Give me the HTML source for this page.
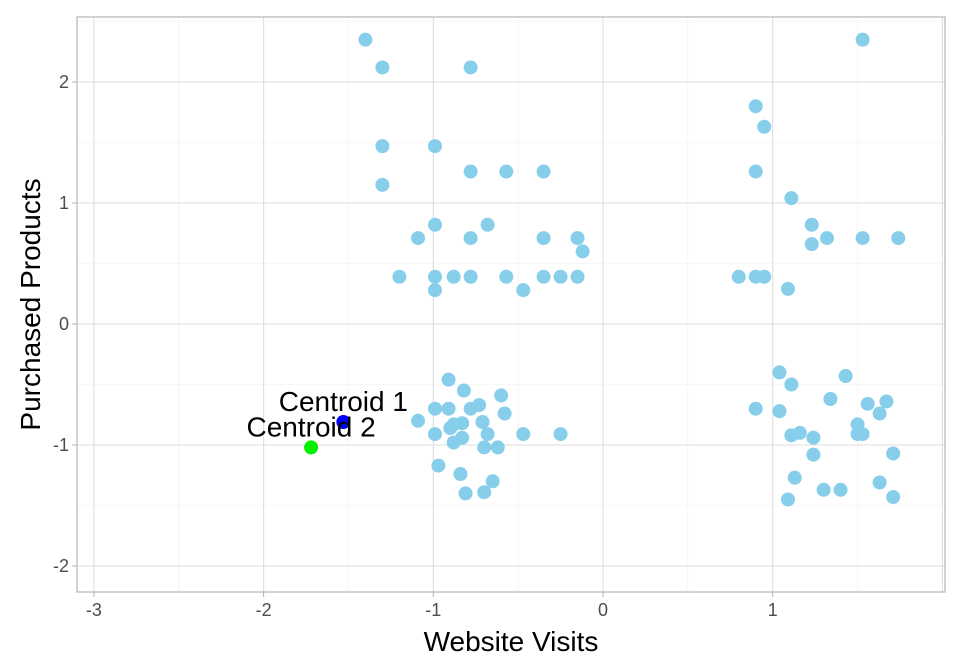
<!DOCTYPE html>
<html><head><meta charset="utf-8"><style>
html,body{margin:0;padding:0;background:#fff;}
svg{display:block;font-family:"Liberation Sans",Arial,sans-serif;}
</style></head><body>
<svg id="chart" width="960" height="672" viewBox="0 0 960 672"></svg>
<script>
const xTicks=[-3,-2,-1,0,1];
const yTicks=[-2,-1,0,1,2];
const xTickLabels=["-3","-2","-1","0","1"];
const yTickLabels=["-2","-1","0","1","2"];
const visitsX=[-1.40,-1.30,-0.78,-1.30,-0.99,-1.30,-0.78,-0.57,-0.35,-1.09,-0.99,-0.78,-0.68,-0.35,-0.15,-0.12,-1.20,-0.99,-0.88,-0.78,-0.57,-0.35,-0.25,-0.15,-0.99,-0.47,
1.53,0.90,0.95,0.90,1.11,1.23,1.23,1.32,1.53,1.74,0.80,0.90,0.95,1.09,
-0.91,-0.60,-0.82,-0.78,-0.73,-0.91,-0.99,-0.58,-1.09,-0.88,-0.83,-0.71,-0.99,-0.90,-0.68,-0.47,-0.25,-0.88,-0.83,-0.70,-0.62,-0.97,-0.84,-0.65,-0.81,-0.70,
1.04,1.11,1.43,1.34,1.56,1.67,1.63,0.90,1.04,1.50,1.16,1.11,1.24,1.53,1.50,1.24,1.71,1.13,1.63,1.30,1.40,1.71,1.09];
const productsY=[2.35,2.12,2.12,1.47,1.47,1.15,1.26,1.26,1.26,0.71,0.82,0.71,0.82,0.71,0.71,0.60,0.39,0.39,0.39,0.39,0.39,0.39,0.39,0.39,0.28,0.28,
2.35,1.80,1.63,1.26,1.04,0.82,0.66,0.71,0.71,0.71,0.39,0.39,0.39,0.29,
-0.46,-0.59,-0.55,-0.70,-0.67,-0.70,-0.70,-0.74,-0.80,-0.83,-0.82,-0.81,-0.91,-0.86,-0.91,-0.91,-0.91,-0.98,-0.94,-1.02,-1.02,-1.17,-1.24,-1.30,-1.40,-1.39,
-0.40,-0.50,-0.43,-0.62,-0.66,-0.64,-0.74,-0.70,-0.72,-0.83,-0.90,-0.92,-0.94,-0.91,-0.91,-1.08,-1.07,-1.27,-1.31,-1.37,-1.37,-1.43,-1.45];
const centroidNames=["Centroid 1","Centroid 2"];
const centroidX=[-1.53,-1.72];
const centroidY=[-0.81,-1.02];
const centroidColors=["#0000ff","#00ee00"];

const NS="http://www.w3.org/2000/svg";
const svg=document.getElementById('chart');
const L=77,R=945,T=17,B=592;
const xs=v=>603+v*169.7;
const ys=v=>324-v*121;
function mk(tag,attrs,parent){const e=document.createElementNS(NS,tag);for(const k in attrs)e.setAttribute(k,attrs[k]);(parent||svg).appendChild(e);return e;}
const grid=mk('g',{});


for(let v=-3.5;v<=2.5;v+=0.5){const x=xs(v);if(x<L||x>R)continue;const major=Number.isInteger(v);
 const ln=mk('line',{x1:x,x2:x,y1:T,y2:B,stroke:major?'#dedede':'#efefef','stroke-width':major?1.1:0.6},grid);
 }
for(let v=-2.5;v<=2.5;v+=0.5){const y=ys(v);if(y<T||y>B)continue;const major=Number.isInteger(v);
 const ln=mk('line',{x1:L,x2:R,y1:y,y2:y,stroke:major?'#dedede':'#efefef','stroke-width':major?1.1:0.6},grid);
 }
const pts=mk('g',{});


for(let i=0;i<visitsX.length;i++){const c=mk('circle',{cx:xs(visitsX[i]),cy:ys(productsY[i]),r:7,fill:'#87ceeb'},pts);
 }
for(let i=0;i<centroidX.length;i++){
 const c=mk('circle',{cx:xs(centroidX[i]),cy:ys(centroidY[i]),r:7,fill:centroidColors[i]});
 
 const t=mk('text',{x:xs(centroidX[i]),y:ys(centroidY[i])-11,'text-anchor':'middle','font-size':28,fill:'#000'});
 t.textContent=centroidNames[i];
 }
const border=mk('rect',{x:L,y:T,width:R-L,height:B-T,fill:'none',stroke:'#b3b3b3','stroke-width':1.2});

xTicks.forEach((v,i)=>{const x=xs(v);if(x>R)return;
 const tk=mk('line',{x1:x,x2:x,y1:B,y2:B+5,stroke:'#b3b3b3'});
 const t=mk('text',{x:x,y:B+24,'text-anchor':'middle','font-size':18,fill:'#4d4d4d'});t.textContent=xTickLabels[i];
 });
yTicks.forEach((v,i)=>{const y=ys(v);
 const tk=mk('line',{x1:L-5,x2:L,y1:y,y2:y,stroke:'#b3b3b3'});
 const t=mk('text',{x:L-8,y:y+6,'text-anchor':'end','font-size':18,fill:'#4d4d4d'});t.textContent=yTickLabels[i];
 });
const xt=mk('text',{x:511,y:651,'text-anchor':'middle','font-size':28,fill:'#000'});xt.textContent='Website Visits';

const yt=mk('text',{x:0,y:0,'text-anchor':'middle','font-size':28,fill:'#000',transform:`translate(40,${(T+B)/2}) rotate(-90)`});yt.textContent='Purchased Products';

</script>
</body></html>
